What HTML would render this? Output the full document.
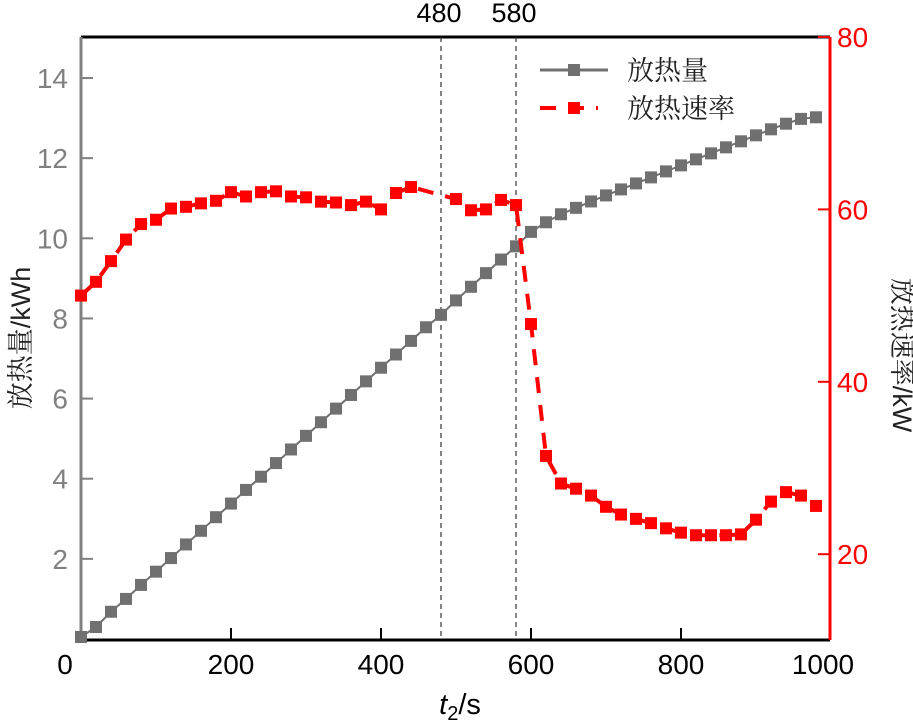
<!DOCTYPE html>
<html><head><meta charset="utf-8"><style>
html,body{margin:0;padding:0;background:#fff;}
svg{display:block;font-family:"Liberation Sans","Noto Sans CJK SC",sans-serif;}
</style></head><body>
<svg id="chart" width="913" height="724" viewBox="0 0 913 724">
<g id="axes"></g>
<g id="series"></g>
<g>
  <g>
    <line x1="540" y1="70" x2="608" y2="70" stroke="#707070" stroke-width="3"/>
    <rect x="568" y="64" width="12" height="12" fill="#707070"/>
    <text x="627" y="80" font-size="27" fill="#222" font-family="'Noto Serif CJK SC',serif">放热量</text>
  </g>
  <g>
    <line x1="540" y1="108" x2="598" y2="108" stroke="#ff0000" stroke-width="4" stroke-dasharray="16,12"/>
    <rect x="568" y="102" width="12" height="12" fill="#ff0000"/>
    <text x="627" y="118" font-size="27" fill="#222" font-family="'Noto Serif CJK SC',serif">放热速率</text>
  </g>
</g>
</svg>
<script>
const times = [0,20,40,60,80,100,120,140,160,180,200,220,240,260,280,300,320,340,360,380,400,420,440,460,480,500,520,540,560,580,600,620,640,660,680,700,720,740,760,780,800,820,840,860,880,900,920,940,960,980];
const heatAmount = [0.05,0.3,0.68,1.0,1.35,1.68,2.02,2.36,2.7,3.04,3.38,3.72,4.05,4.39,4.73,5.07,5.41,5.75,6.09,6.43,6.77,7.1,7.44,7.78,8.09,8.45,8.79,9.13,9.47,9.8,10.16,10.4,10.6,10.76,10.92,11.07,11.22,11.37,11.52,11.67,11.82,11.97,12.12,12.27,12.42,12.57,12.72,12.86,12.98,13.02];
const heatRate = [50.0,51.6,54.0,56.5,58.3,58.8,60.1,60.3,60.7,61.0,62.0,61.5,62.0,62.1,61.5,61.4,60.9,60.8,60.5,60.9,60.0,61.9,62.6,null,null,61.2,59.9,60.0,61.1,60.5,46.7,31.4,28.2,27.6,26.8,25.5,24.6,24.1,23.6,23.0,22.5,22.2,22.2,22.2,22.3,24.0,26.1,27.2,26.8,25.6];
const xTicks = [0,200,400,600,800,1000];
const yLeftTicks = [2,4,6,8,10,12,14];
const yRightTicks = [20,40,60,80];
const markerTimes = [480,580];

const NS="http://www.w3.org/2000/svg";
const L=81,R=830,T=37,B=640;
const xs=t=>L+t*0.75;
const yl=v=>639-v*40.07;
const yr=v=>37+(80-v)*8.62;
function mk(tag,attrs,parent){const e=document.createElementNS(NS,tag);for(const k in attrs)e.setAttribute(k,attrs[k]);parent.appendChild(e);return e;}
const ax=document.getElementById('axes'), se=document.getElementById('series');

let e;
e=mk('line',{x1:L,y1:T,x2:R,y2:T,stroke:'#000','stroke-width':3},ax);


e=mk('line',{x1:L,y1:B,x2:R,y2:B,stroke:'#000','stroke-width':3},ax);


e=mk('line',{x1:L,y1:T,x2:L,y2:B,stroke:'#808080','stroke-width':3},ax);


e=mk('line',{x1:R,y1:T,x2:R,y2:B,stroke:'#ff0000','stroke-width':3},ax);



xTicks.forEach(t=>{
  if(t>0&&t<1000){e=mk('line',{x1:xs(t),y1:B,x2:xs(t),y2:B-12,stroke:'#000','stroke-width':2},ax);
  
  }
  e=mk('text',{x:t===0?65:(t===1000?xs(t)-8:xs(t)),y:674,'font-size':28,'text-anchor':'middle',fill:'#000'},ax);
  e.textContent=t;
  
  
});
yLeftTicks.forEach(v=>{
  e=mk('line',{x1:L,y1:yl(v),x2:L+12,y2:yl(v),stroke:'#808080','stroke-width':2},ax);
  
  
  e=mk('text',{x:68,y:yl(v)+10,'font-size':28,'text-anchor':'end',fill:'#808080'},ax);
  e.textContent=v;
  
  
});
yRightTicks.forEach(v=>{
  e=mk('line',{x1:R,y1:yr(v),x2:R-12,y2:yr(v),stroke:'#ff0000','stroke-width':2},ax);
  
  
  e=mk('text',{x:837,y:yr(v)+10,'font-size':28,'text-anchor':'start',fill:'#ff0000'},ax);
  e.textContent=v;
  
  
});
markerTimes.forEach(t=>{
  e=mk('line',{x1:xs(t),y1:T,x2:xs(t),y2:B,stroke:'#333','stroke-width':1.2,'stroke-dasharray':'5,4'},ax);
  
  
  e=mk('text',{x:xs(t)-2,y:22,'font-size':27,'text-anchor':'middle',fill:'#000'},ax);
  e.textContent=t;
  
  
});
e=mk('text',{x:460,y:714,'font-size':29,'text-anchor':'middle',fill:'#000'},ax);
e.innerHTML='<tspan font-style="italic">t</tspan><tspan font-size="20" dy="6">2</tspan><tspan dy="-6">/s</tspan>';


e=mk('text',{x:0,y:0,'font-size':27,'text-anchor':'middle',fill:'#222',transform:'translate(30,338) rotate(-90)'},ax);
e.innerHTML='<tspan font-family="\'Noto Serif CJK SC\',serif">放热量</tspan>/kWh';


e=mk('text',{x:0,y:0,'font-size':27,'text-anchor':'middle',fill:'#222',transform:'translate(893,355) rotate(90)'},ax);
e.innerHTML='<tspan font-family="\'Noto Serif CJK SC\',serif">放热速率</tspan>/kW';



let d='';
heatAmount.forEach((v,i)=>{d+=(i?'L':'M')+xs(times[i])+' '+yl(v);});
e=mk('path',{d:d,fill:'none',stroke:'#707070','stroke-width':2},se);


heatAmount.forEach((v,i)=>{
  e=mk('rect',{x:xs(times[i])-6,y:yl(v)-6,width:12,height:12,fill:'#707070'},se);
  
  
});
d='';let first=true;
heatRate.forEach((v,i)=>{if(v===null)return;d+=(first?'M':'L')+xs(times[i])+' '+yr(v);first=false;});
e=mk('path',{d:d,fill:'none',stroke:'#ff0000','stroke-width':4,'stroke-dasharray':'16,12'},se);


heatRate.forEach((v,i)=>{
  if(v===null)return;
  e=mk('rect',{x:xs(times[i])-6,y:yr(v)-6,width:12,height:12,fill:'#ff0000'},se);
  
  
});
</script>
</body></html>
